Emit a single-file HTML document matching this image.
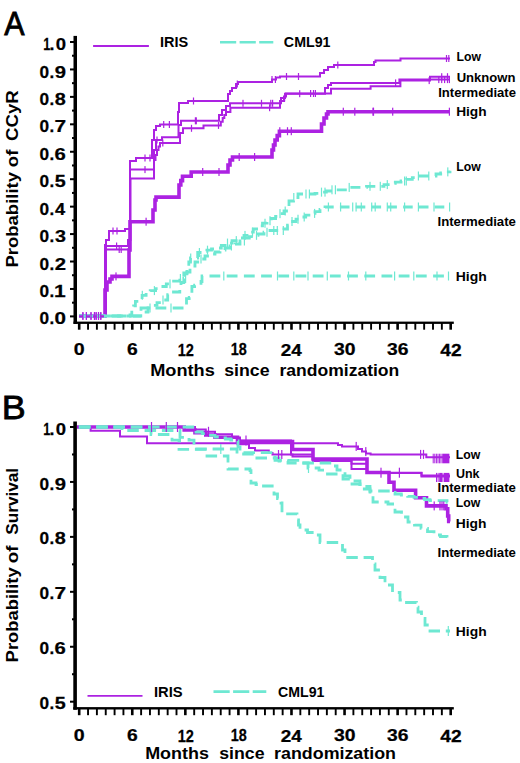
<!DOCTYPE html>
<html><head><meta charset="utf-8"><style>html,body{margin:0;padding:0;background:#fff;overflow:hidden}svg{display:block}text{font-family:"Liberation Sans",sans-serif;font-kerning:none}</style></head>
<body><svg width="520" height="763" viewBox="0 0 520 763">
<rect width="520" height="763" fill="#fff"/>
<text transform="translate(4.29,34.55) scale(0.9315,1)" font-size="32.70" font-weight="400" fill="#000" stroke="#000" stroke-width="0.8">A</text>
<rect x="73.50" y="35.90" width="3.50" height="288.00" fill="#000"/>
<rect x="70.00" y="41.00" width="4.00" height="2.00" fill="#000"/>
<rect x="72.00" y="54.72" width="2.00" height="2.00" fill="#000"/>
<rect x="70.00" y="68.44" width="4.00" height="2.00" fill="#000"/>
<rect x="72.00" y="82.16" width="2.00" height="2.00" fill="#000"/>
<rect x="70.00" y="95.88" width="4.00" height="2.00" fill="#000"/>
<rect x="72.00" y="109.60" width="2.00" height="2.00" fill="#000"/>
<rect x="70.00" y="123.32" width="4.00" height="2.00" fill="#000"/>
<rect x="72.00" y="137.04" width="2.00" height="2.00" fill="#000"/>
<rect x="70.00" y="150.76" width="4.00" height="2.00" fill="#000"/>
<rect x="72.00" y="164.48" width="2.00" height="2.00" fill="#000"/>
<rect x="70.00" y="178.20" width="4.00" height="2.00" fill="#000"/>
<rect x="72.00" y="191.92" width="2.00" height="2.00" fill="#000"/>
<rect x="70.00" y="205.64" width="4.00" height="2.00" fill="#000"/>
<rect x="72.00" y="219.36" width="2.00" height="2.00" fill="#000"/>
<rect x="70.00" y="233.08" width="4.00" height="2.00" fill="#000"/>
<rect x="72.00" y="246.80" width="2.00" height="2.00" fill="#000"/>
<rect x="70.00" y="260.52" width="4.00" height="2.00" fill="#000"/>
<rect x="72.00" y="274.24" width="2.00" height="2.00" fill="#000"/>
<rect x="70.00" y="287.96" width="4.00" height="2.00" fill="#000"/>
<rect x="72.00" y="301.68" width="2.00" height="2.00" fill="#000"/>
<rect x="70.00" y="315.40" width="4.00" height="2.00" fill="#000"/>
<text transform="translate(43.15,50.08) scale(0.7298,1)" font-size="17.37" font-weight="700" fill="#000" stroke="#000" stroke-width="0.25">1</text>
<text transform="translate(49.45,50.08) scale(1.0198,1)" font-size="17.37" font-weight="700" fill="#000" stroke="#000" stroke-width="0.25">.</text>
<text transform="translate(55.72,50.08) scale(1.0651,1)" font-size="17.37" font-weight="700" fill="#000" stroke="#000" stroke-width="0.25">0</text>
<text transform="translate(39.57,77.52) scale(0.9925,1)" font-size="17.37" font-weight="700" fill="#000" stroke="#000" stroke-width="0.25">0</text>
<text transform="translate(49.40,77.52) scale(0.9790,1)" font-size="17.37" font-weight="700" fill="#000" stroke="#000" stroke-width="0.25">.</text>
<text transform="translate(54.65,77.52) scale(1.1646,1)" font-size="17.37" font-weight="700" fill="#000" stroke="#000" stroke-width="0.25">9</text>
<text transform="translate(39.57,104.96) scale(0.9925,1)" font-size="17.37" font-weight="700" fill="#000" stroke="#000" stroke-width="0.25">0</text>
<text transform="translate(49.40,104.96) scale(0.9790,1)" font-size="17.37" font-weight="700" fill="#000" stroke="#000" stroke-width="0.25">.</text>
<text transform="translate(54.72,104.96) scale(1.1427,1)" font-size="17.37" font-weight="700" fill="#000" stroke="#000" stroke-width="0.25">8</text>
<text transform="translate(39.57,132.40) scale(0.9925,1)" font-size="17.37" font-weight="700" fill="#000" stroke="#000" stroke-width="0.25">0</text>
<text transform="translate(49.40,132.40) scale(0.9790,1)" font-size="17.37" font-weight="700" fill="#000" stroke="#000" stroke-width="0.25">.</text>
<text transform="translate(54.45,132.40) scale(1.2022,1)" font-size="17.37" font-weight="700" fill="#000" stroke="#000" stroke-width="0.25">7</text>
<text transform="translate(39.57,159.84) scale(0.9925,1)" font-size="17.37" font-weight="700" fill="#000" stroke="#000" stroke-width="0.25">0</text>
<text transform="translate(49.40,159.84) scale(0.9790,1)" font-size="17.37" font-weight="700" fill="#000" stroke="#000" stroke-width="0.25">.</text>
<text transform="translate(54.61,159.84) scale(1.1669,1)" font-size="17.37" font-weight="700" fill="#000" stroke="#000" stroke-width="0.25">6</text>
<text transform="translate(39.57,187.28) scale(0.9925,1)" font-size="17.37" font-weight="700" fill="#000" stroke="#000" stroke-width="0.25">0</text>
<text transform="translate(49.40,187.28) scale(0.9790,1)" font-size="17.37" font-weight="700" fill="#000" stroke="#000" stroke-width="0.25">.</text>
<text transform="translate(54.74,187.28) scale(1.1337,1)" font-size="17.37" font-weight="700" fill="#000" stroke="#000" stroke-width="0.25">5</text>
<text transform="translate(39.57,214.72) scale(0.9925,1)" font-size="17.37" font-weight="700" fill="#000" stroke="#000" stroke-width="0.25">0</text>
<text transform="translate(49.40,214.72) scale(0.9790,1)" font-size="17.37" font-weight="700" fill="#000" stroke="#000" stroke-width="0.25">.</text>
<text transform="translate(55.07,214.72) scale(1.0531,1)" font-size="17.37" font-weight="700" fill="#000" stroke="#000" stroke-width="0.25">4</text>
<text transform="translate(39.57,242.16) scale(0.9925,1)" font-size="17.37" font-weight="700" fill="#000" stroke="#000" stroke-width="0.25">0</text>
<text transform="translate(49.40,242.16) scale(0.9790,1)" font-size="17.37" font-weight="700" fill="#000" stroke="#000" stroke-width="0.25">.</text>
<text transform="translate(54.90,242.16) scale(1.1348,1)" font-size="17.37" font-weight="700" fill="#000" stroke="#000" stroke-width="0.25">3</text>
<text transform="translate(39.57,269.60) scale(0.9925,1)" font-size="17.37" font-weight="700" fill="#000" stroke="#000" stroke-width="0.25">0</text>
<text transform="translate(49.40,269.60) scale(0.9790,1)" font-size="17.37" font-weight="700" fill="#000" stroke="#000" stroke-width="0.25">.</text>
<text transform="translate(54.64,269.60) scale(1.1717,1)" font-size="17.37" font-weight="700" fill="#000" stroke="#000" stroke-width="0.25">2</text>
<text transform="translate(39.57,297.04) scale(0.9925,1)" font-size="17.37" font-weight="700" fill="#000" stroke="#000" stroke-width="0.25">0</text>
<text transform="translate(49.40,297.04) scale(0.9790,1)" font-size="17.37" font-weight="700" fill="#000" stroke="#000" stroke-width="0.25">.</text>
<text transform="translate(54.02,297.04) scale(1.2122,1)" font-size="17.37" font-weight="700" fill="#000" stroke="#000" stroke-width="0.25">1</text>
<text transform="translate(39.57,324.48) scale(0.9925,1)" font-size="17.37" font-weight="700" fill="#000" stroke="#000" stroke-width="0.25">0</text>
<text transform="translate(49.40,324.48) scale(0.9790,1)" font-size="17.37" font-weight="700" fill="#000" stroke="#000" stroke-width="0.25">.</text>
<text transform="translate(54.54,324.48) scale(1.1861,1)" font-size="17.37" font-weight="700" fill="#000" stroke="#000" stroke-width="0.25">0</text>
<rect x="73.50" y="321.60" width="380.30" height="2.30" fill="#000"/>
<rect x="77.90" y="322.50" width="2.60" height="7.20" fill="#000"/>
<rect x="87.09" y="322.50" width="1.90" height="7.20" fill="#000"/>
<rect x="95.94" y="322.50" width="1.90" height="7.20" fill="#000"/>
<rect x="104.79" y="322.50" width="1.90" height="7.20" fill="#000"/>
<rect x="113.63" y="322.50" width="1.90" height="7.20" fill="#000"/>
<rect x="122.48" y="322.50" width="1.90" height="7.20" fill="#000"/>
<rect x="130.97" y="322.50" width="2.60" height="7.20" fill="#000"/>
<rect x="140.17" y="322.50" width="1.90" height="7.20" fill="#000"/>
<rect x="149.01" y="322.50" width="1.90" height="7.20" fill="#000"/>
<rect x="157.86" y="322.50" width="1.90" height="7.20" fill="#000"/>
<rect x="166.70" y="322.50" width="1.90" height="7.20" fill="#000"/>
<rect x="175.55" y="322.50" width="1.90" height="7.20" fill="#000"/>
<rect x="184.04" y="322.50" width="2.60" height="7.20" fill="#000"/>
<rect x="193.24" y="322.50" width="1.90" height="7.20" fill="#000"/>
<rect x="202.08" y="322.50" width="1.90" height="7.20" fill="#000"/>
<rect x="210.93" y="322.50" width="1.90" height="7.20" fill="#000"/>
<rect x="219.77" y="322.50" width="1.90" height="7.20" fill="#000"/>
<rect x="228.62" y="322.50" width="1.90" height="7.20" fill="#000"/>
<rect x="237.11" y="322.50" width="2.60" height="7.20" fill="#000"/>
<rect x="246.31" y="322.50" width="1.90" height="7.20" fill="#000"/>
<rect x="255.15" y="322.50" width="1.90" height="7.20" fill="#000"/>
<rect x="264.00" y="322.50" width="1.90" height="7.20" fill="#000"/>
<rect x="272.84" y="322.50" width="1.90" height="7.20" fill="#000"/>
<rect x="281.69" y="322.50" width="1.90" height="7.20" fill="#000"/>
<rect x="290.18" y="322.50" width="2.60" height="7.20" fill="#000"/>
<rect x="299.38" y="322.50" width="1.90" height="7.20" fill="#000"/>
<rect x="308.22" y="322.50" width="1.90" height="7.20" fill="#000"/>
<rect x="317.07" y="322.50" width="1.90" height="7.20" fill="#000"/>
<rect x="325.91" y="322.50" width="1.90" height="7.20" fill="#000"/>
<rect x="334.75" y="322.50" width="1.90" height="7.20" fill="#000"/>
<rect x="343.25" y="322.50" width="2.60" height="7.20" fill="#000"/>
<rect x="352.44" y="322.50" width="1.90" height="7.20" fill="#000"/>
<rect x="361.29" y="322.50" width="1.90" height="7.20" fill="#000"/>
<rect x="370.14" y="322.50" width="1.90" height="7.20" fill="#000"/>
<rect x="378.98" y="322.50" width="1.90" height="7.20" fill="#000"/>
<rect x="387.83" y="322.50" width="1.90" height="7.20" fill="#000"/>
<rect x="396.32" y="322.50" width="2.60" height="7.20" fill="#000"/>
<rect x="405.52" y="322.50" width="1.90" height="7.20" fill="#000"/>
<rect x="414.36" y="322.50" width="1.90" height="7.20" fill="#000"/>
<rect x="423.21" y="322.50" width="1.90" height="7.20" fill="#000"/>
<rect x="432.05" y="322.50" width="1.90" height="7.20" fill="#000"/>
<rect x="440.90" y="322.50" width="1.90" height="7.20" fill="#000"/>
<rect x="449.39" y="322.50" width="2.60" height="7.20" fill="#000"/>
<text transform="translate(73.78,355.39) scale(1.1733,1)" font-size="16.67" font-weight="700" fill="#000" stroke="#000" stroke-width="0.25">0</text>
<text transform="translate(126.92,355.39) scale(1.1543,1)" font-size="16.67" font-weight="700" fill="#000" stroke="#000" stroke-width="0.25">6</text>
<text transform="translate(177.67,355.55) scale(0.8618,1)" font-size="16.90" font-weight="700" fill="#000" stroke="#000" stroke-width="0.25">12</text>
<text transform="translate(230.75,355.39) scale(0.8659,1)" font-size="16.67" font-weight="700" fill="#000" stroke="#000" stroke-width="0.25">18</text>
<text transform="translate(280.67,355.55) scale(1.1203,1)" font-size="16.90" font-weight="700" fill="#000" stroke="#000" stroke-width="0.25">24</text>
<text transform="translate(333.96,355.36) scale(1.1643,1)" font-size="16.63" font-weight="700" fill="#000" stroke="#000" stroke-width="0.25">30</text>
<text transform="translate(387.03,355.36) scale(1.1589,1)" font-size="16.63" font-weight="700" fill="#000" stroke="#000" stroke-width="0.25">36</text>
<text transform="translate(440.25,355.55) scale(1.1363,1)" font-size="16.90" font-weight="700" fill="#000" stroke="#000" stroke-width="0.25">42</text>
<text transform="translate(150.13,376.00) scale(1.0638,1)" font-size="17.10" font-weight="700" fill="#000">Months</text>
<text transform="translate(224.23,376.00) scale(1.0366,1)" font-size="17.10" font-weight="700" fill="#000">since</text>
<text transform="translate(279.49,376.00) scale(1.0256,1)" font-size="17.10" font-weight="700" fill="#000">randomization</text>
<text transform="translate(18.40,267.59) rotate(-90) scale(1.0835,1)" font-size="17.10" font-weight="700">Probability</text>
<text transform="translate(18.40,167.17) rotate(-90) scale(1.0835,1)" font-size="17.10" font-weight="700">of</text>
<text transform="translate(18.40,141.01) rotate(-90) scale(1.0900,1)" font-size="17.10" font-weight="700">CCyR</text>
<line x1="93.10" y1="46.00" x2="148.90" y2="46.00" stroke="#ac22e2" stroke-width="1.8" />
<text transform="translate(160.08,47.41) scale(1.0178,1)" font-size="14.27" font-weight="700" fill="#000">IRIS</text>
<path d="M220.0,42.2 L273.3,42.2" fill="none" stroke="#6ee8d2" stroke-width="2.6" stroke-dasharray="16.2 3.4" stroke-linejoin="miter" stroke-linecap="butt" />
<text transform="translate(283.87,47.41) scale(0.9960,1)" font-size="14.27" font-weight="700" fill="#000">CML91</text>
<text transform="translate(456.53,60.92) scale(0.8998,1)" font-size="13.62" font-weight="700" fill="#000">Low</text>
<text transform="translate(456.66,82.02) scale(1.0226,1)" font-size="12.80" font-weight="700" fill="#000">Unknown</text>
<text transform="translate(438.17,97.02) scale(1.0117,1)" font-size="12.94" font-weight="700" fill="#000">Intermediate</text>
<text transform="translate(456.13,115.70) scale(1.0977,1)" font-size="12.49" font-weight="700" fill="#000">High</text>
<text transform="translate(456.33,171.32) scale(0.8998,1)" font-size="13.62" font-weight="700" fill="#000">Low</text>
<text transform="translate(437.47,225.63) scale(1.0543,1)" font-size="12.53" font-weight="700" fill="#000">Intermediate</text>
<text transform="translate(455.71,280.82) scale(1.1707,1)" font-size="11.96" font-weight="700" fill="#000">High</text>
<g id="curvesA">
<path d="M79.0,316.0 L104.0,316.0 L105.0,316.0 L105.0,245.0 L106.0,245.0 L106.0,240.0 L108.0,240.0 L109.0,240.0 L109.0,231.0 L125.0,231.0 L125.0,229.0 L129.0,229.0 L130.0,229.0 L130.0,161.0 L135.0,161.0 L136.0,161.0 L136.0,158.0 L150.0,158.0 L152.0,158.0 L152.0,140.0 L154.0,140.0 L154.0,130.0 L156.0,130.0 L156.0,126.0 L160.0,126.0 L160.0,124.5 L176.0,124.5 L178.0,124.5 L178.0,112.0 L179.0,112.0 L179.0,103.0 L188.0,103.0 L188.0,101.0 L226.0,101.0 L228.0,101.0 L228.0,94.0 L230.0,94.0 L230.0,91.0 L232.0,91.0 L232.0,88.0 L236.0,88.0 L236.0,84.0 L238.0,84.0 L238.0,82.0 L272.0,82.0 L272.0,79.5 L276.0,79.5 L276.0,77.5 L280.0,77.5 L280.0,76.5 L318.0,76.5 L320.0,76.5 L320.0,73.0 L324.0,73.0 L324.0,70.0 L328.0,70.0 L328.0,67.0 L334.0,67.0 L334.0,65.0 L373.0,65.0 L374.0,65.0 L374.0,62.0 L375.5,62.0 L375.5,60.5 L400.0,60.5 L400.5,60.5 L400.5,58.5 L450.0,58.5" fill="none" stroke="#ac22e2" stroke-width="2.0" stroke-linejoin="miter" stroke-linecap="butt" />
<path d="M79.0,316.0 L104.0,316.0 L106.0,316.0 L106.0,246.0 L127.0,246.0 L128.0,246.0 L128.0,240.0 L130.0,240.0 L130.0,169.6 L152.0,169.6 L154.0,169.6 L154.0,150.0 L156.0,150.0 L156.0,140.0 L162.0,140.0 L162.0,137.2 L176.6,137.2 L178.5,137.2 L178.5,125.0 L181.0,125.0 L181.0,120.8 L217.0,120.8 L219.0,120.8 L219.0,115.0 L222.0,115.0 L222.0,110.0 L226.0,110.0 L226.0,106.0 L230.0,106.0 L230.0,103.3 L278.5,103.3 L281.0,103.3 L281.0,98.0 L285.0,98.0 L285.0,93.7 L323.0,93.7 L325.0,93.7 L325.0,88.0 L328.0,88.0 L328.0,85.0 L331.0,85.0 L331.0,82.9 L399.4,82.9 L399.4,79.6 L450.0,79.6" fill="none" stroke="#ac22e2" stroke-width="2.0" stroke-linejoin="miter" stroke-linecap="butt" />
<path d="M79.0,316.0 L104.0,316.0 L106.0,316.0 L106.0,249.5 L127.0,249.5 L129.0,249.5 L129.0,240.0 L130.5,240.0 L130.5,178.5 L152.0,178.5 L154.0,178.5 L154.0,160.0 L155.5,160.0 L155.5,155.0 L157.0,155.0 L157.0,150.0 L158.5,150.0 L158.5,146.5 L160.0,146.5 L160.0,143.0 L177.6,143.0 L180.0,143.0 L180.0,133.0 L183.0,133.0 L183.0,128.3 L203.5,128.3 L203.5,125.4 L218.8,125.4 L220.8,125.4 L220.8,121.7 L222.7,121.7 L222.7,118.0 L224.3,118.0 L224.3,115.0 L226.0,115.0 L226.0,112.0 L230.4,112.0 L230.4,107.7 L277.5,107.7 L280.0,107.7 L280.0,101.0 L284.0,101.0 L284.0,96.5 L286.0,96.5 L286.0,93.5 L331.0,93.5 L331.0,88.7 L370.6,88.7 L370.6,86.3 L400.4,86.3 L400.4,80.6 L430.0,80.6 L430.0,76.7 L450.0,76.7" fill="none" stroke="#ac22e2" stroke-width="2.0" stroke-linejoin="miter" stroke-linecap="butt" />
<path d="M79.0,316.0 L104.0,316.0 L105.0,316.0 L105.0,290.0 L107.0,290.0 L107.0,282.0 L109.0,282.0 L110.0,282.0 L110.0,279.0 L112.0,279.0 L112.0,276.4 L127.8,276.4 L129.0,276.4 L129.0,250.0 L130.0,250.0 L130.0,221.7 L152.0,221.7 L153.0,221.7 L153.0,210.0 L155.0,210.0 L155.0,200.0 L156.0,200.0 L156.0,197.1 L177.7,197.1 L179.0,197.1 L179.0,185.0 L180.8,185.0 L180.8,180.6 L182.5,180.6 L182.5,176.2 L191.2,176.2 L191.2,172.0 L226.7,172.0 L228.0,172.0 L228.0,165.0 L230.0,165.0 L230.0,160.0 L232.5,160.0 L232.5,157.0 L270.8,157.0 L272.0,157.0 L272.0,150.0 L273.5,150.0 L273.5,145.0 L275.0,145.0 L275.0,140.0 L277.2,140.0 L277.2,135.6 L279.4,135.6 L279.4,131.2 L320.0,131.2 L321.5,131.2 L321.5,124.0 L324.0,124.0 L324.0,118.0 L326.5,118.0 L326.5,114.0 L328.0,114.0 L328.0,111.7 L450.0,111.7" fill="none" stroke="#ac22e2" stroke-width="3.6" stroke-linejoin="miter" stroke-linecap="butt" />
<rect x="82.30" y="312.50" width="1.20" height="7.00" fill="#ac22e2"/>
<rect x="85.80" y="312.50" width="1.20" height="7.00" fill="#ac22e2"/>
<rect x="90.40" y="312.50" width="1.20" height="7.00" fill="#ac22e2"/>
<rect x="93.90" y="312.50" width="1.20" height="7.00" fill="#ac22e2"/>
<rect x="95.60" y="312.50" width="1.20" height="7.00" fill="#ac22e2"/>
<rect x="97.90" y="312.50" width="1.20" height="7.00" fill="#ac22e2"/>
<rect x="100.20" y="312.50" width="1.20" height="7.00" fill="#ac22e2"/>
<rect x="112.40" y="227.50" width="1.20" height="7.00" fill="#ac22e2"/>
<rect x="116.40" y="227.50" width="1.20" height="7.00" fill="#ac22e2"/>
<rect x="144.40" y="154.50" width="1.20" height="7.00" fill="#ac22e2"/>
<rect x="149.40" y="154.50" width="1.20" height="7.00" fill="#ac22e2"/>
<rect x="163.10" y="121.00" width="1.20" height="7.00" fill="#ac22e2"/>
<rect x="168.80" y="121.00" width="1.20" height="7.00" fill="#ac22e2"/>
<rect x="192.90" y="97.50" width="1.20" height="7.00" fill="#ac22e2"/>
<rect x="236.70" y="80.50" width="1.20" height="7.00" fill="#ac22e2"/>
<rect x="271.40" y="76.00" width="1.20" height="7.00" fill="#ac22e2"/>
<rect x="274.80" y="76.00" width="1.20" height="7.00" fill="#ac22e2"/>
<rect x="285.90" y="73.00" width="1.20" height="7.00" fill="#ac22e2"/>
<rect x="297.90" y="73.00" width="1.20" height="7.00" fill="#ac22e2"/>
<rect x="337.20" y="61.50" width="1.20" height="7.00" fill="#ac22e2"/>
<rect x="445.90" y="55.00" width="1.20" height="7.00" fill="#ac22e2"/>
<rect x="448.20" y="55.00" width="1.20" height="7.00" fill="#ac22e2"/>
<rect x="116.00" y="242.50" width="1.20" height="7.00" fill="#ac22e2"/>
<rect x="144.40" y="166.10" width="1.20" height="7.00" fill="#ac22e2"/>
<rect x="156.40" y="136.50" width="1.20" height="7.00" fill="#ac22e2"/>
<rect x="194.80" y="117.30" width="1.20" height="7.00" fill="#ac22e2"/>
<rect x="195.70" y="117.30" width="1.20" height="7.00" fill="#ac22e2"/>
<rect x="242.40" y="99.80" width="1.20" height="7.00" fill="#ac22e2"/>
<rect x="260.90" y="99.80" width="1.20" height="7.00" fill="#ac22e2"/>
<rect x="270.20" y="99.80" width="1.20" height="7.00" fill="#ac22e2"/>
<rect x="272.00" y="99.80" width="1.20" height="7.00" fill="#ac22e2"/>
<rect x="284.00" y="94.50" width="1.20" height="7.00" fill="#ac22e2"/>
<rect x="299.10" y="90.20" width="1.20" height="7.00" fill="#ac22e2"/>
<rect x="395.00" y="79.40" width="1.20" height="7.00" fill="#ac22e2"/>
<rect x="438.20" y="76.10" width="1.20" height="7.00" fill="#ac22e2"/>
<rect x="441.10" y="76.10" width="1.20" height="7.00" fill="#ac22e2"/>
<rect x="444.00" y="76.10" width="1.20" height="7.00" fill="#ac22e2"/>
<rect x="446.90" y="76.10" width="1.20" height="7.00" fill="#ac22e2"/>
<rect x="448.80" y="76.10" width="1.20" height="7.00" fill="#ac22e2"/>
<rect x="118.60" y="246.00" width="1.20" height="7.00" fill="#ac22e2"/>
<rect x="120.60" y="246.00" width="1.20" height="7.00" fill="#ac22e2"/>
<rect x="162.20" y="139.50" width="1.20" height="7.00" fill="#ac22e2"/>
<rect x="190.90" y="124.80" width="1.20" height="7.00" fill="#ac22e2"/>
<rect x="217.90" y="121.90" width="1.20" height="7.00" fill="#ac22e2"/>
<rect x="269.00" y="104.20" width="1.20" height="7.00" fill="#ac22e2"/>
<rect x="310.00" y="90.00" width="1.20" height="7.00" fill="#ac22e2"/>
<rect x="312.90" y="90.00" width="1.20" height="7.00" fill="#ac22e2"/>
<rect x="314.80" y="90.00" width="1.20" height="7.00" fill="#ac22e2"/>
<rect x="428.60" y="77.10" width="1.20" height="7.00" fill="#ac22e2"/>
<rect x="441.10" y="73.20" width="1.20" height="7.00" fill="#ac22e2"/>
<rect x="446.90" y="73.20" width="1.20" height="7.00" fill="#ac22e2"/>
<rect x="115.40" y="272.40" width="1.20" height="8.00" fill="#ac22e2"/>
<rect x="145.50" y="217.70" width="1.20" height="8.00" fill="#ac22e2"/>
<rect x="202.10" y="168.00" width="1.20" height="8.00" fill="#ac22e2"/>
<rect x="218.40" y="168.00" width="1.20" height="8.00" fill="#ac22e2"/>
<rect x="238.60" y="153.00" width="1.20" height="8.00" fill="#ac22e2"/>
<rect x="254.00" y="153.00" width="1.20" height="8.00" fill="#ac22e2"/>
<rect x="279.20" y="127.20" width="1.20" height="8.00" fill="#ac22e2"/>
<rect x="286.90" y="127.20" width="1.20" height="8.00" fill="#ac22e2"/>
<rect x="290.70" y="127.20" width="1.20" height="8.00" fill="#ac22e2"/>
<rect x="342.70" y="107.70" width="1.20" height="8.00" fill="#ac22e2"/>
<rect x="354.20" y="107.70" width="1.20" height="8.00" fill="#ac22e2"/>
<rect x="372.40" y="107.70" width="1.20" height="8.00" fill="#ac22e2"/>
<rect x="372.90" y="107.70" width="1.20" height="8.00" fill="#ac22e2"/>
<rect x="392.10" y="107.70" width="1.20" height="8.00" fill="#ac22e2"/>
<rect x="448.80" y="107.70" width="1.20" height="8.00" fill="#ac22e2"/>
<path d="M79.0,316.0 L129.0,316.0 L130.0,316.0 L130.0,314.8 L131.8,314.8 L131.8,310.3 L133.6,310.3 L133.6,305.8 L135.4,305.8 L135.4,301.3 L142.1,301.3 L142.1,295.3 L146.1,295.3 L146.1,293.0 L150.2,293.0 L150.2,290.6 L155.6,290.6 L155.6,288.6 L161.0,288.6 L161.0,286.5 L166.3,286.5 L166.3,283.9 L171.7,283.9 L171.7,281.2 L179.8,281.2 L179.8,278.5 L183.8,278.5 L183.8,273.0 L187.0,273.0 L187.0,266.0 L188.8,266.0 L188.8,262.0 L190.5,262.0 L190.5,258.0 L197.7,258.0 L197.7,252.5 L202.3,252.5 L202.3,251.3 L206.9,251.3 L206.9,250.2 L211.5,250.2 L211.5,249.0 L216.0,249.0 L216.0,248.0 L221.3,248.0 L221.3,245.5 L226.7,245.5 L226.7,243.1 L232.0,243.1 L232.0,240.6 L238.0,240.6 L238.0,238.0 L244.0,238.0 L244.0,235.4 L248.7,235.4 L248.7,232.2 L253.3,232.2 L253.3,229.0 L258.0,229.0 L258.0,225.8 L262.5,225.8 L262.5,223.2 L267.0,223.2 L267.0,220.7 L271.3,220.7 L271.3,218.5 L275.6,218.5 L275.6,216.3 L279.8,216.3 L279.8,213.7 L284.0,213.7 L284.0,211.0 L286.5,211.0 L286.5,206.0 L289.0,206.0 L289.0,201.0 L293.5,201.0 L293.5,197.5 L298.0,197.5 L298.0,194.0 L315.0,194.0 L315.0,193.3 L320.7,193.3 L320.7,192.1 L326.3,192.1 L326.3,191.0 L332.0,191.0 L332.0,189.8 L349.0,189.8 L349.0,187.4 L366.5,187.4 L366.5,186.3 L384.0,186.3 L384.0,184.6 L389.7,184.6 L389.7,183.4 L395.3,183.4 L395.3,182.2 L401.0,182.2 L401.0,181.0 L406.7,181.0 L406.7,179.3 L412.3,179.3 L412.3,177.7 L418.0,177.7 L418.0,176.0 L436.0,176.0 L436.0,174.0 L440.7,174.0 L440.7,172.9 L445.3,172.9 L445.3,171.9 L450.0,171.9 L450.0,170.8" fill="none" stroke="#6ee8d2" stroke-width="2.8" stroke-dasharray="10 6" stroke-linejoin="miter" stroke-linecap="butt" stroke-dashoffset="0.00"/>
<path d="M79.0,316.0 L138.0,316.0 L140.8,316.0 L140.8,312.0 L148.0,312.0 L148.0,308.0 L152.5,308.0 L152.5,305.4 L157.0,305.4 L157.0,302.7 L162.3,302.7 L162.3,300.0 L167.7,300.0 L167.7,294.6 L170.4,294.6 L170.4,292.0 L179.8,292.0 L179.8,289.2 L181.0,289.2 L181.0,282.5 L183.8,282.5 L183.8,278.5 L186.9,278.5 L186.9,272.2 L190.0,272.2 L190.0,266.0 L195.0,266.0 L195.0,262.0 L200.0,262.0 L200.0,259.0 L205.0,259.0 L205.0,256.0 L210.0,256.0 L210.0,254.0 L215.0,254.0 L215.0,252.0 L220.0,252.0 L220.0,250.0 L225.0,250.0 L225.0,248.0 L230.0,248.0 L230.0,246.0 L235.0,246.0 L235.0,244.0 L240.0,244.0 L240.0,241.0 L245.0,241.0 L245.0,238.0 L249.3,238.0 L249.3,236.7 L253.7,236.7 L253.7,235.3 L258.0,235.3 L258.0,234.0 L264.0,234.0 L264.0,232.2 L270.0,232.2 L270.0,230.5 L284.0,230.5 L284.0,229.0 L287.5,229.0 L287.5,225.2 L291.0,225.2 L291.0,221.5 L296.0,221.5 L296.0,219.2 L301.0,219.2 L301.0,217.0 L305.7,217.0 L305.7,215.2 L310.3,215.2 L310.3,213.4 L315.0,213.4 L315.0,211.6 L320.0,211.6 L320.0,209.3 L325.0,209.3 L325.0,207.0 L450.0,207.0 L450.0,206.5" fill="none" stroke="#6ee8d2" stroke-width="2.8" stroke-dasharray="9.6 6.2" stroke-linejoin="miter" stroke-linecap="butt" stroke-dashoffset="9.30"/>
<path d="M79.0,316.0 L138.0,316.0 L139.5,316.0 L139.5,312.0 L141.0,312.0 L141.0,308.0 L185.0,308.0 L186.5,308.0 L186.5,298.6 L189.2,298.6 L189.2,297.3 L191.9,297.3 L191.9,286.5 L194.6,286.5 L194.6,285.2 L201.0,285.2 L201.0,281.5 L202.0,281.5 L202.0,276.0 L450.0,276.0" fill="none" stroke="#6ee8d2" stroke-width="2.8" stroke-dasharray="10.8 6.4" stroke-linejoin="miter" stroke-linecap="butt" stroke-dashoffset="1.50"/>
<path d="M79.0,316.3 L104.0,316.3" fill="none" stroke="#ac22e2" stroke-width="2.2" stroke-dasharray="4 3" stroke-linejoin="miter" stroke-linecap="butt" />
<rect x="82.30" y="312.00" width="1.20" height="8.00" fill="#ac22e2"/>
<rect x="85.80" y="312.00" width="1.20" height="8.00" fill="#ac22e2"/>
<rect x="90.40" y="312.00" width="1.20" height="8.00" fill="#ac22e2"/>
<rect x="93.90" y="312.00" width="1.20" height="8.00" fill="#ac22e2"/>
<rect x="95.60" y="312.00" width="1.20" height="8.00" fill="#ac22e2"/>
<rect x="97.90" y="312.00" width="1.20" height="8.00" fill="#ac22e2"/>
<rect x="100.20" y="312.00" width="1.20" height="8.00" fill="#ac22e2"/>
<rect x="141.70" y="290.80" width="1.20" height="9.00" fill="#6ee8d2"/>
<rect x="153.80" y="286.10" width="1.20" height="9.00" fill="#6ee8d2"/>
<rect x="169.40" y="279.35" width="1.20" height="9.00" fill="#6ee8d2"/>
<rect x="179.80" y="274.00" width="1.20" height="9.00" fill="#6ee8d2"/>
<rect x="190.10" y="253.50" width="1.20" height="9.00" fill="#6ee8d2"/>
<rect x="198.80" y="248.00" width="1.20" height="9.00" fill="#6ee8d2"/>
<rect x="206.90" y="245.67" width="1.20" height="9.00" fill="#6ee8d2"/>
<rect x="226.90" y="238.57" width="1.20" height="9.00" fill="#6ee8d2"/>
<rect x="235.70" y="236.10" width="1.20" height="9.00" fill="#6ee8d2"/>
<rect x="244.40" y="230.90" width="1.20" height="9.00" fill="#6ee8d2"/>
<rect x="251.90" y="227.70" width="1.20" height="9.00" fill="#6ee8d2"/>
<rect x="264.40" y="218.75" width="1.20" height="9.00" fill="#6ee8d2"/>
<rect x="269.40" y="216.20" width="1.20" height="9.00" fill="#6ee8d2"/>
<rect x="279.40" y="209.15" width="1.20" height="9.00" fill="#6ee8d2"/>
<rect x="284.60" y="206.50" width="1.20" height="9.00" fill="#6ee8d2"/>
<rect x="293.20" y="193.00" width="1.20" height="9.00" fill="#6ee8d2"/>
<rect x="305.40" y="189.50" width="1.20" height="9.00" fill="#6ee8d2"/>
<rect x="308.80" y="189.50" width="1.20" height="9.00" fill="#6ee8d2"/>
<rect x="320.90" y="187.63" width="1.20" height="9.00" fill="#6ee8d2"/>
<rect x="324.40" y="187.63" width="1.20" height="9.00" fill="#6ee8d2"/>
<rect x="331.40" y="185.30" width="1.20" height="9.00" fill="#6ee8d2"/>
<rect x="334.80" y="185.30" width="1.20" height="9.00" fill="#6ee8d2"/>
<rect x="348.60" y="182.90" width="1.20" height="9.00" fill="#6ee8d2"/>
<rect x="369.40" y="181.80" width="1.20" height="9.00" fill="#6ee8d2"/>
<rect x="379.70" y="181.80" width="1.20" height="9.00" fill="#6ee8d2"/>
<rect x="386.70" y="180.10" width="1.20" height="9.00" fill="#6ee8d2"/>
<rect x="404.00" y="176.50" width="1.20" height="9.00" fill="#6ee8d2"/>
<rect x="405.70" y="176.50" width="1.20" height="9.00" fill="#6ee8d2"/>
<rect x="417.80" y="171.50" width="1.20" height="9.00" fill="#6ee8d2"/>
<rect x="428.20" y="171.50" width="1.20" height="9.00" fill="#6ee8d2"/>
<rect x="447.20" y="167.37" width="1.20" height="9.00" fill="#6ee8d2"/>
<rect x="162.40" y="295.50" width="1.20" height="9.00" fill="#6ee8d2"/>
<rect x="185.00" y="274.00" width="1.20" height="9.00" fill="#6ee8d2"/>
<rect x="200.40" y="254.50" width="1.20" height="9.00" fill="#6ee8d2"/>
<rect x="230.80" y="241.50" width="1.20" height="9.00" fill="#6ee8d2"/>
<rect x="243.80" y="236.50" width="1.20" height="9.00" fill="#6ee8d2"/>
<rect x="255.90" y="230.83" width="1.20" height="9.00" fill="#6ee8d2"/>
<rect x="266.40" y="227.75" width="1.20" height="9.00" fill="#6ee8d2"/>
<rect x="273.20" y="226.00" width="1.20" height="9.00" fill="#6ee8d2"/>
<rect x="276.70" y="226.00" width="1.20" height="9.00" fill="#6ee8d2"/>
<rect x="282.70" y="226.00" width="1.20" height="9.00" fill="#6ee8d2"/>
<rect x="291.40" y="217.00" width="1.20" height="9.00" fill="#6ee8d2"/>
<rect x="297.40" y="214.75" width="1.20" height="9.00" fill="#6ee8d2"/>
<rect x="303.60" y="212.50" width="1.20" height="9.00" fill="#6ee8d2"/>
<rect x="314.00" y="208.90" width="1.20" height="9.00" fill="#6ee8d2"/>
<rect x="327.80" y="202.50" width="1.20" height="9.00" fill="#6ee8d2"/>
<rect x="340.00" y="202.50" width="1.20" height="9.00" fill="#6ee8d2"/>
<rect x="352.10" y="202.50" width="1.20" height="9.00" fill="#6ee8d2"/>
<rect x="355.50" y="202.50" width="1.20" height="9.00" fill="#6ee8d2"/>
<rect x="360.70" y="202.50" width="1.20" height="9.00" fill="#6ee8d2"/>
<rect x="371.10" y="202.50" width="1.20" height="9.00" fill="#6ee8d2"/>
<rect x="374.60" y="202.50" width="1.20" height="9.00" fill="#6ee8d2"/>
<rect x="386.70" y="202.50" width="1.20" height="9.00" fill="#6ee8d2"/>
<rect x="390.10" y="202.50" width="1.20" height="9.00" fill="#6ee8d2"/>
<rect x="404.00" y="202.50" width="1.20" height="9.00" fill="#6ee8d2"/>
<rect x="417.80" y="202.50" width="1.20" height="9.00" fill="#6ee8d2"/>
<rect x="433.40" y="202.50" width="1.20" height="9.00" fill="#6ee8d2"/>
<rect x="449.00" y="202.50" width="1.20" height="9.00" fill="#6ee8d2"/>
<rect x="149.40" y="303.50" width="1.20" height="9.00" fill="#6ee8d2"/>
<rect x="170.40" y="303.50" width="1.20" height="9.00" fill="#6ee8d2"/>
<rect x="223.20" y="271.50" width="1.20" height="9.00" fill="#6ee8d2"/>
<rect x="276.90" y="271.50" width="1.20" height="9.00" fill="#6ee8d2"/>
<rect x="293.20" y="271.50" width="1.20" height="9.00" fill="#6ee8d2"/>
<rect x="307.40" y="271.50" width="1.20" height="9.00" fill="#6ee8d2"/>
<rect x="326.70" y="271.50" width="1.20" height="9.00" fill="#6ee8d2"/>
<rect x="347.90" y="271.50" width="1.20" height="9.00" fill="#6ee8d2"/>
<rect x="365.20" y="271.50" width="1.20" height="9.00" fill="#6ee8d2"/>
<rect x="394.00" y="271.50" width="1.20" height="9.00" fill="#6ee8d2"/>
<rect x="413.20" y="271.50" width="1.20" height="9.00" fill="#6ee8d2"/>
<rect x="436.40" y="271.50" width="1.20" height="9.00" fill="#6ee8d2"/>
<rect x="447.90" y="271.50" width="1.20" height="9.00" fill="#6ee8d2"/>
</g>
<text transform="translate(1.71,418.75) scale(1.0782,1)" font-size="33.29" font-weight="400" fill="#000" stroke="#000" stroke-width="0.8">B</text>
<rect x="73.30" y="421.50" width="3.60" height="288.30" fill="#000"/>
<rect x="70.00" y="426.00" width="4.00" height="2.00" fill="#000"/>
<rect x="72.00" y="453.47" width="2.00" height="2.00" fill="#000"/>
<rect x="70.00" y="480.94" width="4.00" height="2.00" fill="#000"/>
<rect x="72.00" y="508.41" width="2.00" height="2.00" fill="#000"/>
<rect x="70.00" y="535.88" width="4.00" height="2.00" fill="#000"/>
<rect x="72.00" y="563.35" width="2.00" height="2.00" fill="#000"/>
<rect x="70.00" y="590.82" width="4.00" height="2.00" fill="#000"/>
<rect x="72.00" y="618.29" width="2.00" height="2.00" fill="#000"/>
<rect x="70.00" y="645.76" width="4.00" height="2.00" fill="#000"/>
<rect x="72.00" y="673.23" width="2.00" height="2.00" fill="#000"/>
<rect x="70.00" y="700.70" width="4.00" height="2.00" fill="#000"/>
<text transform="translate(43.15,434.58) scale(0.7298,1)" font-size="17.37" font-weight="700" fill="#000" stroke="#000" stroke-width="0.25">1</text>
<text transform="translate(49.45,434.58) scale(1.0198,1)" font-size="17.37" font-weight="700" fill="#000" stroke="#000" stroke-width="0.25">.</text>
<text transform="translate(55.72,434.58) scale(1.0651,1)" font-size="17.37" font-weight="700" fill="#000" stroke="#000" stroke-width="0.25">0</text>
<text transform="translate(39.57,489.52) scale(0.9925,1)" font-size="17.37" font-weight="700" fill="#000" stroke="#000" stroke-width="0.25">0</text>
<text transform="translate(49.40,489.52) scale(0.9790,1)" font-size="17.37" font-weight="700" fill="#000" stroke="#000" stroke-width="0.25">.</text>
<text transform="translate(54.65,489.52) scale(1.1646,1)" font-size="17.37" font-weight="700" fill="#000" stroke="#000" stroke-width="0.25">9</text>
<text transform="translate(39.57,544.46) scale(0.9925,1)" font-size="17.37" font-weight="700" fill="#000" stroke="#000" stroke-width="0.25">0</text>
<text transform="translate(49.40,544.46) scale(0.9790,1)" font-size="17.37" font-weight="700" fill="#000" stroke="#000" stroke-width="0.25">.</text>
<text transform="translate(54.72,544.46) scale(1.1427,1)" font-size="17.37" font-weight="700" fill="#000" stroke="#000" stroke-width="0.25">8</text>
<text transform="translate(39.57,599.40) scale(0.9925,1)" font-size="17.37" font-weight="700" fill="#000" stroke="#000" stroke-width="0.25">0</text>
<text transform="translate(49.40,599.40) scale(0.9790,1)" font-size="17.37" font-weight="700" fill="#000" stroke="#000" stroke-width="0.25">.</text>
<text transform="translate(54.45,599.40) scale(1.2022,1)" font-size="17.37" font-weight="700" fill="#000" stroke="#000" stroke-width="0.25">7</text>
<text transform="translate(39.57,654.34) scale(0.9925,1)" font-size="17.37" font-weight="700" fill="#000" stroke="#000" stroke-width="0.25">0</text>
<text transform="translate(49.40,654.34) scale(0.9790,1)" font-size="17.37" font-weight="700" fill="#000" stroke="#000" stroke-width="0.25">.</text>
<text transform="translate(54.61,654.34) scale(1.1669,1)" font-size="17.37" font-weight="700" fill="#000" stroke="#000" stroke-width="0.25">6</text>
<text transform="translate(39.57,709.28) scale(0.9925,1)" font-size="17.37" font-weight="700" fill="#000" stroke="#000" stroke-width="0.25">0</text>
<text transform="translate(49.40,709.28) scale(0.9790,1)" font-size="17.37" font-weight="700" fill="#000" stroke="#000" stroke-width="0.25">.</text>
<text transform="translate(54.74,709.28) scale(1.1337,1)" font-size="17.37" font-weight="700" fill="#000" stroke="#000" stroke-width="0.25">5</text>
<rect x="73.30" y="707.10" width="380.50" height="2.40" fill="#000"/>
<rect x="77.90" y="708.00" width="2.60" height="7.20" fill="#000"/>
<rect x="87.09" y="708.00" width="1.90" height="7.20" fill="#000"/>
<rect x="95.94" y="708.00" width="1.90" height="7.20" fill="#000"/>
<rect x="104.79" y="708.00" width="1.90" height="7.20" fill="#000"/>
<rect x="113.63" y="708.00" width="1.90" height="7.20" fill="#000"/>
<rect x="122.48" y="708.00" width="1.90" height="7.20" fill="#000"/>
<rect x="130.97" y="708.00" width="2.60" height="7.20" fill="#000"/>
<rect x="140.17" y="708.00" width="1.90" height="7.20" fill="#000"/>
<rect x="149.01" y="708.00" width="1.90" height="7.20" fill="#000"/>
<rect x="157.86" y="708.00" width="1.90" height="7.20" fill="#000"/>
<rect x="166.70" y="708.00" width="1.90" height="7.20" fill="#000"/>
<rect x="175.55" y="708.00" width="1.90" height="7.20" fill="#000"/>
<rect x="184.04" y="708.00" width="2.60" height="7.20" fill="#000"/>
<rect x="193.24" y="708.00" width="1.90" height="7.20" fill="#000"/>
<rect x="202.08" y="708.00" width="1.90" height="7.20" fill="#000"/>
<rect x="210.93" y="708.00" width="1.90" height="7.20" fill="#000"/>
<rect x="219.77" y="708.00" width="1.90" height="7.20" fill="#000"/>
<rect x="228.62" y="708.00" width="1.90" height="7.20" fill="#000"/>
<rect x="237.11" y="708.00" width="2.60" height="7.20" fill="#000"/>
<rect x="246.31" y="708.00" width="1.90" height="7.20" fill="#000"/>
<rect x="255.15" y="708.00" width="1.90" height="7.20" fill="#000"/>
<rect x="264.00" y="708.00" width="1.90" height="7.20" fill="#000"/>
<rect x="272.84" y="708.00" width="1.90" height="7.20" fill="#000"/>
<rect x="281.69" y="708.00" width="1.90" height="7.20" fill="#000"/>
<rect x="290.18" y="708.00" width="2.60" height="7.20" fill="#000"/>
<rect x="299.38" y="708.00" width="1.90" height="7.20" fill="#000"/>
<rect x="308.22" y="708.00" width="1.90" height="7.20" fill="#000"/>
<rect x="317.07" y="708.00" width="1.90" height="7.20" fill="#000"/>
<rect x="325.91" y="708.00" width="1.90" height="7.20" fill="#000"/>
<rect x="334.75" y="708.00" width="1.90" height="7.20" fill="#000"/>
<rect x="343.25" y="708.00" width="2.60" height="7.20" fill="#000"/>
<rect x="352.44" y="708.00" width="1.90" height="7.20" fill="#000"/>
<rect x="361.29" y="708.00" width="1.90" height="7.20" fill="#000"/>
<rect x="370.14" y="708.00" width="1.90" height="7.20" fill="#000"/>
<rect x="378.98" y="708.00" width="1.90" height="7.20" fill="#000"/>
<rect x="387.83" y="708.00" width="1.90" height="7.20" fill="#000"/>
<rect x="396.32" y="708.00" width="2.60" height="7.20" fill="#000"/>
<rect x="405.52" y="708.00" width="1.90" height="7.20" fill="#000"/>
<rect x="414.36" y="708.00" width="1.90" height="7.20" fill="#000"/>
<rect x="423.21" y="708.00" width="1.90" height="7.20" fill="#000"/>
<rect x="432.05" y="708.00" width="1.90" height="7.20" fill="#000"/>
<rect x="440.90" y="708.00" width="1.90" height="7.20" fill="#000"/>
<rect x="449.39" y="708.00" width="2.60" height="7.20" fill="#000"/>
<text transform="translate(73.78,741.49) scale(1.1733,1)" font-size="16.67" font-weight="700" fill="#000" stroke="#000" stroke-width="0.25">0</text>
<text transform="translate(126.92,741.49) scale(1.1543,1)" font-size="16.67" font-weight="700" fill="#000" stroke="#000" stroke-width="0.25">6</text>
<text transform="translate(177.67,741.65) scale(0.8618,1)" font-size="16.90" font-weight="700" fill="#000" stroke="#000" stroke-width="0.25">12</text>
<text transform="translate(230.75,741.49) scale(0.8659,1)" font-size="16.67" font-weight="700" fill="#000" stroke="#000" stroke-width="0.25">18</text>
<text transform="translate(280.67,741.65) scale(1.1203,1)" font-size="16.90" font-weight="700" fill="#000" stroke="#000" stroke-width="0.25">24</text>
<text transform="translate(333.96,741.46) scale(1.1643,1)" font-size="16.63" font-weight="700" fill="#000" stroke="#000" stroke-width="0.25">30</text>
<text transform="translate(387.03,741.46) scale(1.1589,1)" font-size="16.63" font-weight="700" fill="#000" stroke="#000" stroke-width="0.25">36</text>
<text transform="translate(440.25,741.65) scale(1.1363,1)" font-size="16.90" font-weight="700" fill="#000" stroke="#000" stroke-width="0.25">42</text>
<text transform="translate(145.15,758.70) scale(1.0502,1)" font-size="17.10" font-weight="700" fill="#000">Months</text>
<text transform="translate(219.23,758.70) scale(1.0366,1)" font-size="17.10" font-weight="700" fill="#000">since</text>
<text transform="translate(274.07,758.70) scale(1.0439,1)" font-size="17.10" font-weight="700" fill="#000">randomization</text>
<text transform="translate(18.40,662.38) rotate(-90) scale(1.0766,1)" font-size="17.10" font-weight="700">Probability</text>
<text transform="translate(18.40,563.29) rotate(-90) scale(1.1093,1)" font-size="17.10" font-weight="700">of</text>
<text transform="translate(18.40,534.75) rotate(-90) scale(1.0056,1)" font-size="17.10" font-weight="700">Survival</text>
<line x1="87.50" y1="695.80" x2="142.50" y2="695.80" stroke="#ac22e2" stroke-width="1.8" />
<text transform="translate(153.96,697.21) scale(1.0331,1)" font-size="14.27" font-weight="700" fill="#000">IRIS</text>
<path d="M213.5,691.6 L266.3,691.6" fill="none" stroke="#6ee8d2" stroke-width="2.6" stroke-dasharray="16.2 3.4" stroke-linejoin="miter" stroke-linecap="butt" />
<text transform="translate(278.07,697.11) scale(0.9819,1)" font-size="14.41" font-weight="700" fill="#000">CML91</text>
<text transform="translate(455.83,459.12) scale(0.9331,1)" font-size="13.19" font-weight="700" fill="#000">Low</text>
<text transform="translate(455.90,477.73) scale(1.0442,1)" font-size="11.98" font-weight="700" fill="#000">Unk</text>
<text transform="translate(437.47,492.22) scale(1.0103,1)" font-size="13.07" font-weight="700" fill="#000">Intermediate</text>
<text transform="translate(455.83,507.13) scale(0.9755,1)" font-size="12.61" font-weight="700" fill="#000">Low</text>
<text transform="translate(455.72,527.70) scale(1.1092,1)" font-size="12.49" font-weight="700" fill="#000">High</text>
<text transform="translate(437.47,556.73) scale(1.0658,1)" font-size="12.39" font-weight="700" fill="#000">Intermediate</text>
<text transform="translate(455.82,636.22) scale(1.1587,1)" font-size="11.96" font-weight="700" fill="#000">High</text>
<g id="curvesB">
<path d="M77.0,427.0 L90.6,427.0 L90.6,430.8 L118.5,430.8 L120.0,430.8 L120.0,436.4 L145.0,436.4 L147.0,436.4 L147.0,443.2 L335.8,443.2 L338.0,443.2 L338.0,445.0 L342.0,445.0 L342.0,446.4 L355.7,446.4 L358.0,446.4 L358.0,449.0 L362.0,449.0 L362.0,451.6 L366.0,451.6 L366.0,453.5 L370.6,453.5 L370.6,454.4 L426.3,454.4 L426.3,457.3 L450.0,457.3" fill="none" stroke="#ac22e2" stroke-width="2.0" stroke-linejoin="miter" stroke-linecap="butt" />
<path d="M77.0,427.0 L195.0,427.0 L195.0,429.5 L205.8,429.5 L205.8,431.8 L215.0,431.8 L215.0,434.2 L232.0,434.2 L232.0,437.4 L240.0,437.4 L240.0,440.5 L291.0,440.5 L291.0,454.5 L311.5,454.5 L313.0,454.5 L313.0,460.0 L351.5,460.0 L351.5,463.7 L367.0,463.7 L367.0,472.7 L421.5,472.7 L421.5,475.6 L450.0,475.6" fill="none" stroke="#ac22e2" stroke-width="2.0" stroke-linejoin="miter" stroke-linecap="butt" />
<path d="M77.0,427.0 L184.2,427.0 L184.2,430.0 L195.0,430.0 L195.0,432.6 L205.8,432.6 L205.8,435.0 L215.0,435.0 L215.0,437.3 L237.5,437.3 L237.5,444.3 L247.5,444.3 L249.0,444.3 L249.0,448.0 L254.0,448.0 L255.0,448.0 L255.0,450.5 L268.8,450.5 L268.8,453.0 L272.5,453.0 L272.5,454.5 L292.5,454.5 L292.5,456.5 L312.0,456.5 L313.0,456.5 L313.0,461.0 L351.5,461.0 L351.5,469.0 L363.8,469.0 L367.0,469.0 L367.0,473.0 L421.5,473.0 L421.5,476.5 L450.0,476.5" fill="none" stroke="#ac22e2" stroke-width="2.0" stroke-linejoin="miter" stroke-linecap="butt" />
<path d="M77.0,427.0 L184.2,427.0 L184.2,430.0 L195.0,430.0 L195.0,432.6 L205.8,432.6 L205.8,435.0 L215.0,435.0 L215.0,437.3 L237.5,437.3 L237.5,441.5 L292.5,441.5 L292.5,449.5 L312.3,449.5 L313.0,449.5 L313.0,459.0 L367.0,459.0 L367.0,472.5 L387.0,472.5 L389.0,472.5 L389.0,482.2 L394.0,482.2 L394.0,490.3 L415.6,490.3 L415.6,497.7 L426.5,497.7 L426.5,505.9 L445.8,505.9 L446.0,505.9 L446.0,508.8 L447.7,508.8 L447.7,516.0 L448.7,516.0 L448.7,521.5 L450.0,521.5" fill="none" stroke="#ac22e2" stroke-width="3.6" stroke-linejoin="miter" stroke-linecap="butt" />
<path d="M77.0,427.0 L194.0,427.0 L196.0,427.0 L196.0,432.0 L202.3,432.0 L202.3,433.7 L208.7,433.7 L208.7,435.3 L215.0,435.3 L215.0,437.0 L220.2,437.0 L220.2,438.0 L225.5,438.0 L225.5,439.0 L230.8,439.0 L230.8,440.0 L236.0,440.0 L236.0,441.0 L238.0,441.0 L238.0,446.9 L240.0,446.9 L240.0,452.7 L271.0,452.7 L271.0,455.0 L275.0,455.0 L275.0,460.4 L298.0,460.4 L300.0,460.4 L300.0,463.0 L330.0,463.0 L332.0,463.0 L332.0,466.0 L337.0,466.0 L337.0,470.0 L345.0,470.0 L345.0,476.0 L350.0,476.0 L350.0,481.0 L357.0,481.0 L360.0,481.0 L360.0,486.5 L365.0,486.5 L370.0,486.5 L370.0,491.0 L386.0,491.0 L390.5,491.0 L390.5,492.5 L395.0,492.5 L395.0,494.0 L401.3,494.0 L401.3,495.1 L407.7,495.1 L407.7,496.3 L414.0,496.3 L414.0,497.4 L419.3,497.4 L419.3,498.5 L424.7,498.5 L424.7,499.6 L430.0,499.6 L430.0,500.7 L447.0,500.7 L447.0,502.3 L450.0,502.3 L450.0,504.0" fill="none" stroke="#6ee8d2" stroke-width="2.8" stroke-dasharray="11.5 5.8" stroke-linejoin="miter" stroke-linecap="butt" stroke-dashoffset="15.4"/>
<path d="M77.0,427.0 L121.0,427.0 L122.0,427.0 L122.0,430.5 L178.0,430.5 L180.0,430.5 L180.0,437.3 L188.0,437.3 L189.0,437.3 L189.0,440.2 L193.0,440.2 L194.0,440.2 L194.0,449.0 L234.0,449.0 L237.0,449.0 L237.0,454.0 L252.0,454.0 L254.0,454.0 L254.0,458.0 L277.0,458.0 L279.0,458.0 L279.0,461.0 L288.0,461.0 L288.0,463.0 L305.0,463.0 L308.0,463.0 L308.0,468.0 L318.0,468.0 L319.0,468.0 L319.0,470.2 L327.0,470.2 L327.5,470.2 L327.5,474.0 L338.0,474.0 L343.0,474.0 L343.0,479.0 L348.0,479.0 L350.0,479.0 L350.0,484.0 L358.0,484.0 L360.0,484.0 L360.0,489.0 L368.0,489.0 L370.0,489.0 L370.0,496.0 L373.0,496.0 L373.0,502.0 L384.0,502.0 L388.0,502.0 L388.0,504.0 L395.0,504.0 L395.0,512.0 L401.5,512.0 L401.5,517.0 L408.0,517.0 L408.0,522.0 L414.5,522.0 L414.5,525.2 L421.0,525.2 L421.0,528.4 L427.5,528.4 L427.5,531.7 L434.0,531.7 L434.0,535.0 L440.5,535.0 L440.5,536.5 L447.0,536.5 L447.0,538.0 L450.0,538.0 L450.0,540.0" fill="none" stroke="#6ee8d2" stroke-width="2.8" stroke-dasharray="11.5 5.8" stroke-linejoin="miter" stroke-linecap="butt" stroke-dashoffset="15.4"/>
<path d="M77.0,427.0 L150.0,427.0 L151.0,427.0 L151.0,434.5 L170.0,434.5 L172.0,434.5 L172.0,440.2 L178.0,440.2 L179.0,440.2 L179.0,449.4 L204.0,449.4 L205.0,449.4 L205.0,456.0 L227.0,456.0 L228.0,456.0 L228.0,469.0 L250.0,469.0 L250.0,470.6 L251.0,470.6 L251.0,483.0 L256.0,483.0 L256.0,484.5 L261.0,484.5 L261.0,486.0 L272.0,486.0 L274.0,486.0 L274.0,494.0 L277.5,494.0 L277.5,498.5 L281.0,498.5 L281.0,503.0 L282.0,503.0 L282.0,513.8 L294.0,513.8 L297.0,513.8 L297.0,520.0 L298.5,520.0 L298.5,525.0 L300.0,525.0 L300.0,530.0 L307.5,530.0 L307.5,532.5 L315.0,532.5 L315.0,535.0 L320.0,535.0 L320.0,542.5 L340.0,542.5 L342.5,542.5 L342.5,550.0 L345.0,550.0 L345.0,557.5 L370.0,557.5 L372.5,557.5 L372.5,563.8 L375.0,563.8 L375.0,570.0 L380.0,570.0 L380.0,577.5 L385.0,577.5 L385.0,585.0 L392.5,585.0 L392.5,592.5 L400.0,592.5 L400.0,600.0 L405.0,600.0 L405.0,602.5 L415.0,602.5 L416.5,602.5 L416.5,607.2 L418.0,607.2 L418.0,612.0 L421.5,612.0 L421.5,618.5 L425.0,618.5 L425.0,625.0 L430.0,625.0 L430.0,631.0 L450.0,631.0" fill="none" stroke="#6ee8d2" stroke-width="2.8" stroke-dasharray="11.5 5.8" stroke-linejoin="miter" stroke-linecap="butt" stroke-dashoffset="15.4"/>
<rect x="355.60" y="441.90" width="1.20" height="9.00" fill="#ac22e2"/>
<rect x="365.20" y="447.10" width="1.20" height="9.00" fill="#ac22e2"/>
<rect x="420.00" y="449.90" width="1.20" height="9.00" fill="#ac22e2"/>
<rect x="422.90" y="449.90" width="1.20" height="9.00" fill="#ac22e2"/>
<rect x="150.90" y="422.00" width="1.20" height="10.00" fill="#ac22e2"/>
<rect x="165.70" y="422.00" width="1.20" height="10.00" fill="#ac22e2"/>
<rect x="176.90" y="422.00" width="1.20" height="10.00" fill="#ac22e2"/>
<rect x="207.90" y="426.80" width="1.20" height="10.00" fill="#ac22e2"/>
<rect x="245.40" y="435.50" width="1.20" height="10.00" fill="#ac22e2"/>
<rect x="380.40" y="467.70" width="1.20" height="10.00" fill="#ac22e2"/>
<rect x="398.80" y="467.70" width="1.20" height="10.00" fill="#ac22e2"/>
<rect x="277.90" y="450.00" width="1.20" height="9.00" fill="#ac22e2"/>
<rect x="281.20" y="450.00" width="1.20" height="9.00" fill="#ac22e2"/>
<rect x="433.60" y="501.40" width="1.20" height="9.00" fill="#ac22e2"/>
<rect x="439.40" y="501.40" width="1.20" height="9.00" fill="#ac22e2"/>
<rect x="441.40" y="501.40" width="1.20" height="9.00" fill="#ac22e2"/>
<rect x="443.20" y="501.40" width="1.20" height="9.00" fill="#ac22e2"/>
<rect x="179.80" y="432.30" width="1.20" height="10.00" fill="#6ee8d2"/>
<rect x="220.20" y="444.00" width="1.20" height="10.00" fill="#6ee8d2"/>
<rect x="307.90" y="463.00" width="1.20" height="10.00" fill="#6ee8d2"/>
<rect x="447.70" y="626.00" width="1.20" height="10.00" fill="#6ee8d2"/>
<rect x="432.70" y="453.70" width="1.00" height="9.60" fill="#ac22e2"/>
<rect x="434.30" y="453.70" width="1.00" height="9.60" fill="#ac22e2"/>
<rect x="435.90" y="453.70" width="1.00" height="9.60" fill="#ac22e2"/>
<rect x="437.50" y="453.70" width="1.00" height="9.60" fill="#ac22e2"/>
<rect x="439.10" y="453.70" width="1.00" height="9.60" fill="#ac22e2"/>
<rect x="440.50" y="453.70" width="1.00" height="9.60" fill="#ac22e2"/>
<rect x="442.20" y="453.70" width="7.20" height="9.60" fill="#ac22e2"/>
<rect x="436.00" y="472.90" width="1.00" height="9.10" fill="#ac22e2"/>
<rect x="437.60" y="472.90" width="1.00" height="9.10" fill="#ac22e2"/>
<rect x="439.20" y="472.90" width="3.40" height="9.10" fill="#ac22e2"/>
<rect x="443.60" y="472.90" width="5.80" height="9.10" fill="#ac22e2"/>
</g>
</svg></body></html>
